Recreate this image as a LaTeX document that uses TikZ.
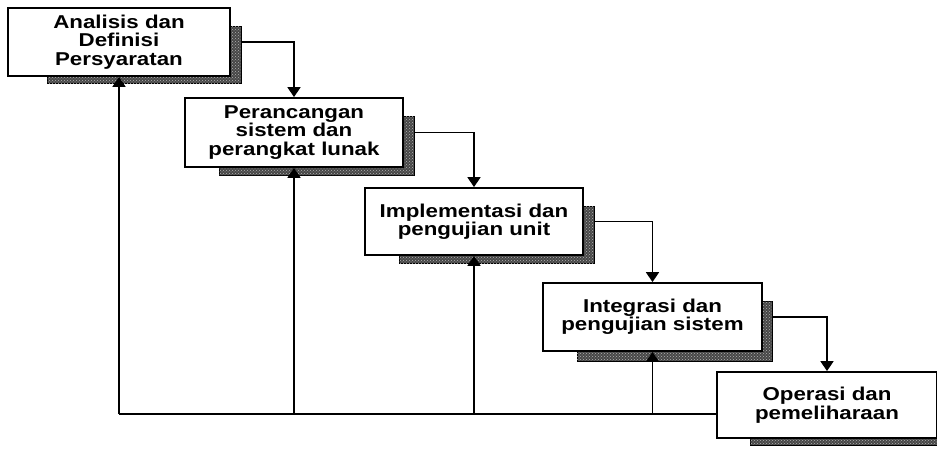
\documentclass[tikz,border=0pt]{standalone}
\usepackage{fontspec}
\setmainfont{Liberation Sans}[FakeStretch=1.2]
\usetikzlibrary{arrows.meta,calc,backgrounds,patterns}
\begin{document}
\begin{tikzpicture}[x=1pt,y=-1pt,
  box/.style={draw=black,line width=1.8pt,fill=white,align=center,
    font=\fontsize{18.6}{18.4}\selectfont\bfseries,inner sep=0pt},
  shadowbox/.style={fill=black!72,draw=black,line width=0.8pt,
    postaction={pattern=crosshatch dots,pattern color=white!70!black}},
  conn/.style={line width=1.8pt,-{Triangle[width=13pt,length=10pt]}},
  plainline/.style={line width=1.8pt}]
\useasboundingbox (0,0) rectangle (937,454);

\node[box,minimum width=222pt,minimum height=68pt] (b1) at (119,42) {Analisis dan\\Definisi\\Persyaratan};
\node[box,minimum width=218pt,minimum height=69pt] (b2) at (294,132.5) {Perancangan\\sistem dan\\perangkat lunak};
\node[box,minimum width=218pt,minimum height=67pt] (b3) at (474,221.5) {Implementasi dan\\pengujian unit};
\node[box,minimum width=219pt,minimum height=68pt] (b4) at (652.5,317) {Integrasi dan\\pengujian sistem};
\node[box,minimum width=220pt,minimum height=66pt] (b5) at (827,405) {Operasi dan\\pemeliharaan};

\begin{scope}[on background layer]
  \draw[shadowbox] ($(b1.north west)+(40,19)$) rectangle ($(b1.south east)+(10,7)$);
  \draw[shadowbox] ($(b2.north west)+(35,19)$) rectangle ($(b2.south east)+(10,8)$);
  \draw[shadowbox] ($(b3.north west)+(35,19)$) rectangle ($(b3.south east)+(10,8)$);
  \draw[shadowbox] ($(b4.north west)+(35,19)$) rectangle ($(b4.south east)+(9,9)$);
  \draw[shadowbox] ($(b5.north west)+(34,19)$) rectangle ($(b5.south east)+(10,6)$);
\end{scope}

\draw[conn,shorten <=10pt] (b1.east) -| (b2.north);
\draw[conn,shorten <=10pt] (b2.east) -| (b3.north);
\draw[conn,shorten <=10pt] (b3.east) -| (b4.north);
\draw[conn,shorten <=9pt] (b4.east) -| (b5.north);

\coordinate (bl) at (0,414);
\draw[plainline] (b5.west |- bl) -- (b1.south |- bl);
\draw[conn] (b1.south |- bl) -- (b1.south);
\draw[conn] (b2.south |- bl) -- (b2.south);
\draw[conn] (b3.south |- bl) -- (b3.south);
\draw[conn] (b4.south |- bl) -- (b4.south);
\end{tikzpicture}
\end{document}
